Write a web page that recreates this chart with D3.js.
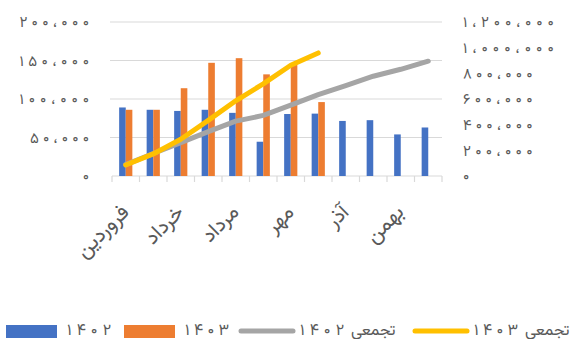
<!DOCTYPE html>
<html>
<head>
<meta charset="utf-8">
<script src="https://cdn.jsdelivr.net/npm/d3@7"></script>
<style>
  html, body { margin: 0; padding: 0; background: #fff; }
  svg { display: block; }
  text { font-family: "Vazirmatn", "DejaVu Sans", sans-serif; fill: #595959; }
</style>
</head>
<body>
<svg id="chart" width="576" height="339"></svg>
<script>
// Months of the Persian calendar
const months = ["فروردین", "اردیبهشت", "خرداد", "تیر", "مرداد", "شهریور",
                "مهر", "آبان", "آذر", "دی", "بهمن", "اسفند"];

// Monthly values
const monthly1402 = [89000, 86000, 84500, 86000, 82000, 44500, 80500, 81000, 71500, 72500, 54000, 63000];
const monthly1403 = [86000, 86000, 114000, 147000, 153000, 132000, 145000, 96000];

// Running totals (right axis)
const cumulative1402 = [89000, 175000, 259500, 345500, 427500, 472000, 552500, 633500, 705000, 777500, 831500, 894500];
const cumulative1403 = [86000, 172000, 286000, 433000, 586000, 718000, 863000, 959000];

// Axis ticks
const leftTicks = [0, 50000, 100000, 150000, 200000];
const rightTicks = [0, 200000, 400000, 600000, 800000, 1000000, 1200000];

// Legend entries: optional word + year
const legendWords = ["", "", "تجمعی", "تجمعی"];
const legendYears = ["۱۴۰۲", "۱۴۰۳", "۱۴۰۲", "۱۴۰۳"];

const colors = { b1402: "#4472C4", b1403: "#ED7D31", c1402: "#A5A5A5", c1403: "#FFC000" };

const faDigits = "۰۱۲۳۴۵۶۷۸۹";
function toFa(n) {
  const s = d3.format(",")(n).replace(/,/g, "،");
  return s.replace(/[0-9]/g, d => faDigits[+d]);
}

const svg = d3.select("#chart");
const plot = { left: 112, right: 442, top: 22, bottom: 176 };
const numFont = 15;
const charStep = 10.6;   // wide digit spacing of the number labels

const x = d3.scaleBand().domain(months).range([plot.left, plot.right]).padding(0);
const yL = d3.scaleLinear().domain([0, 200000]).range([plot.bottom, plot.top]);
const yR = d3.scaleLinear().domain([0, 1200000]).range([plot.bottom, plot.top]);

// spread number glyphs over a fixed advance per character
function spread(sel) {
  sel.each(function () {
    const n = this.textContent.length;
    if (n > 1) d3.select(this)
      .attr("textLength", (n - 1) * charStep + 6)
      .attr("lengthAdjust", "spacing");
  });
}

// Gridlines
svg.append("g")
  .selectAll("line")
  .data(leftTicks.slice(1))
  .join("line")
  .attr("x1", plot.left - 2).attr("x2", plot.right)
  .attr("y1", d => yL(d)).attr("y2", d => yL(d))
  .attr("stroke", "#d9d9d9").attr("stroke-width", 1.2);

// Left axis
const leftAxis = svg.append("g")
  .attr("transform", `translate(${plot.left - 23},0)`)
  .call(d3.axisLeft(yL).tickValues(leftTicks).tickFormat(toFa).tickSize(0).tickPadding(0));
leftAxis.select(".domain").remove();
leftAxis.selectAll("text")
  .attr("font-size", numFont)
  .attr("fill", "#595959").style("font-family", "Vazirmatn")
  .call(spread);

// Right axis
const rightAxis = svg.append("g")
  .attr("transform", `translate(463,0)`)
  .call(d3.axisRight(yR).tickValues(rightTicks).tickFormat(toFa).tickSize(0).tickPadding(0));
rightAxis.select(".domain").remove();
rightAxis.selectAll("text")
  .attr("font-size", numFont)
  .attr("fill", "#595959").attr("text-anchor", "start").style("font-family", "Vazirmatn")
  .call(spread);

// Bottom axis baseline and ticks
const bottom = svg.append("g");
bottom.append("line")
  .attr("x1", plot.left).attr("x2", plot.right)
  .attr("y1", plot.bottom).attr("y2", plot.bottom)
  .attr("stroke", "#d9d9d9").attr("stroke-width", 1.2);
bottom.selectAll("line.tick")
  .data(d3.range(months.length + 1))
  .join("line")
  .attr("class", "tick")
  .attr("x1", i => plot.left + i * x.step()).attr("x2", i => plot.left + i * x.step())
  .attr("y1", plot.bottom).attr("y2", plot.bottom + 6)
  .attr("stroke", "#d9d9d9").attr("stroke-width", 1.2);

// Month labels (every other month)
const bw = x.bandwidth() * 0.24;
svg.append("g")
  .selectAll("text")
  .data(months.filter((m, i) => i % 2 === 0))
  .join("text")
  .attr("transform", d => `translate(${x(d) + x.bandwidth() / 2 - 1},${plot.bottom + 32}) rotate(-45)`)
  .attr("text-anchor", "end")
  .attr("dy", "0.35em")
  .attr("font-size", 21)
  .text(d => d);

// Bars
svg.append("g")
  .selectAll("rect")
  .data(monthly1402)
  .join("rect")
  .attr("x", (d, i) => x(months[i]) + x.bandwidth() / 2 - bw)
  .attr("width", bw)
  .attr("y", d => yL(d))
  .attr("height", d => plot.bottom - yL(d))
  .attr("fill", colors.b1402);

svg.append("g")
  .selectAll("rect")
  .data(monthly1403)
  .join("rect")
  .attr("x", (d, i) => x(months[i]) + x.bandwidth() / 2)
  .attr("width", bw)
  .attr("y", d => yL(d))
  .attr("height", d => plot.bottom - yL(d))
  .attr("fill", colors.b1403);

// Cumulative lines
const line = d3.line()
  .x((d, i) => x(months[i]) + x.bandwidth() / 2)
  .y(d => yR(d));

svg.append("path")
  .datum(cumulative1402)
  .attr("d", line)
  .attr("fill", "none")
  .attr("stroke", colors.c1402)
  .attr("stroke-width", 5)
  .attr("stroke-linecap", "round")
  .attr("stroke-linejoin", "round");

svg.append("path")
  .datum(cumulative1403)
  .attr("d", line)
  .attr("fill", "none")
  .attr("stroke", colors.c1403)
  .attr("stroke-width", 5)
  .attr("stroke-linecap", "round")
  .attr("stroke-linejoin", "round");

// Legend
const legendStarts = [6, 124, 239, 413];
const legendKinds = ["rect", "rect", "line", "line"];
const legendColors = [colors.b1402, colors.b1403, colors.c1402, colors.c1403];
const legend = svg.append("g");
legendYears.forEach((year, i) => {
  const x0 = legendStarts[i];
  if (legendKinds[i] === "rect") {
    legend.append("rect")
      .attr("x", x0).attr("y", 325).attr("width", 51).attr("height", 13)
      .attr("fill", legendColors[i]);
  } else {
    legend.append("line")
      .attr("x1", x0 + 2).attr("x2", x0 + 54)
      .attr("y1", 331).attr("y2", 331)
      .attr("stroke", legendColors[i]).attr("stroke-width", 5)
      .attr("stroke-linecap", "round");
  }
  legend.append("text")
    .attr("x", x0 + 61).attr("y", 329)
    .attr("dy", "0.35em")
    .attr("font-size", 16)
    .attr("textLength", 44).attr("lengthAdjust", "spacing")
    .text(year);
  if (legendWords[i]) legend.append("text")
    .attr("x", x0 + 112).attr("y", 329)
    .attr("dy", "0.35em")
    .attr("font-size", 16)
    .text(legendWords[i]);
});
</script>
</body>
</html>
